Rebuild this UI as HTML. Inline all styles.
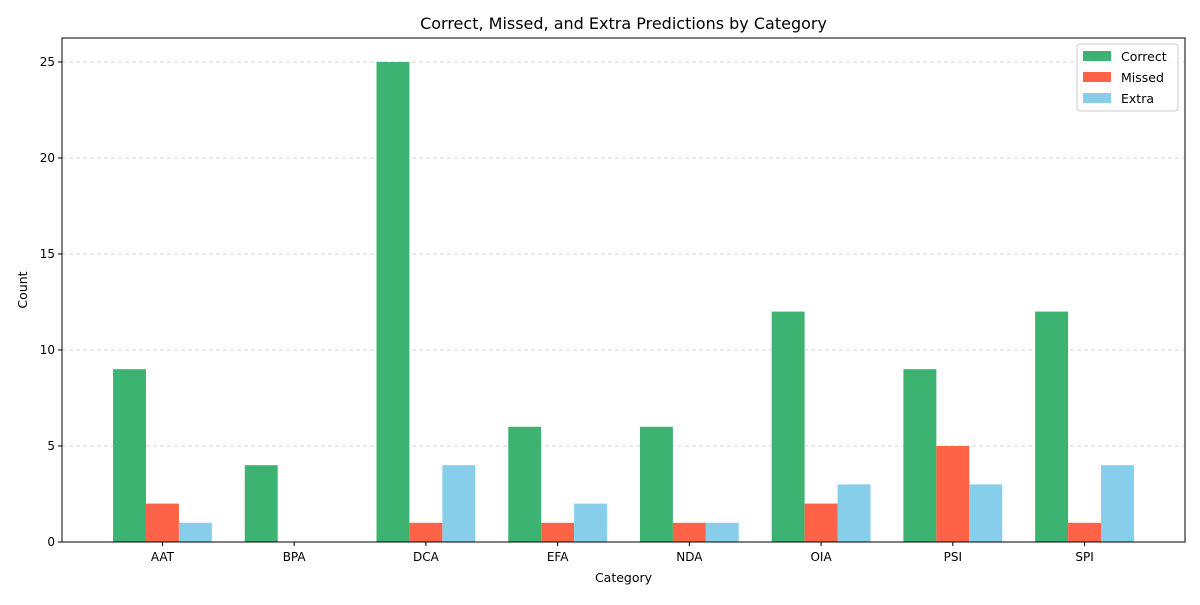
<!DOCTYPE html>
<html><head><meta charset="utf-8"><style>
body{margin:0;background:#fff;font-family:"Liberation Sans","DejaVu Sans",sans-serif;}
svg text{font-family:"DejaVu Sans","Liberation Sans",sans-serif;}
</style></head><body>
<svg id="c" width="1200" height="600" xmlns="http://www.w3.org/2000/svg"></svg>
<script>
const categories=["AAT","BPA","DCA","EFA","NDA","OIA","PSI","SPI"];
const correctVals=[9,4,25,6,6,12,9,12];
const missedVals=[2,0,1,1,1,2,5,1];
const extraVals=[1,0,4,2,1,3,3,4];
const yTicks=[0,5,10,15,20,25];
const seriesNames=["Correct","Missed","Extra"];
const seriesColors=["#3cb371","#ff6347","#87ceeb"];

const svg=document.getElementById('c');
const NS="http://www.w3.org/2000/svg";
const L=62,R=1185,T=38,B=542;
const xmin=-0.7625,xmax=categories.length-1+0.7625;
const ymin=0,ymax=26.25;
const xs=v=>L+(v-xmin)/(xmax-xmin)*(R-L);
const ys=v=>B-(v-ymin)/(ymax-ymin)*(B-T);
function mk(tag,attrs,parent){const e=document.createElementNS(NS,tag);for(const k in attrs)e.setAttribute(k,attrs[k]);(parent||svg).appendChild(e);return e;}

yTicks.forEach(t=>{
 if(t===0)return;
 const g=mk('line',{x1:L,x2:R,y1:ys(t),y2:ys(t),stroke:'#c8c8c8','stroke-width':0.8,'stroke-dasharray':'4,3'});
 
 
});
const all=[correctVals,missedVals,extraVals];
const w=0.25;
all.forEach((vals,s)=>{
 vals.forEach((v,i)=>{
  const x0=xs(i+(s-1)*w-w/2),x1=xs(i+(s-1)*w+w/2);
  const r=mk('rect',{x:x0,y:ys(v),width:x1-x0,height:ys(0)-ys(v),fill:seriesColors[s]});
  
  
 });
});
const fr=mk('rect',{x:L,y:T,width:R-L,height:B-T,fill:'none',stroke:'#000','stroke-width':1});


yTicks.forEach(t=>{
 mk('line',{x1:L-4,x2:L,y1:ys(t),y2:ys(t),stroke:'#000'});
 const tx=mk('text',{x:L-7,y:ys(t)+4,'text-anchor':'end','font-size':12});
 tx.textContent=t;
 
 
});
categories.forEach((c,i)=>{
 mk('line',{x1:xs(i),x2:xs(i),y1:B,y2:B+4,stroke:'#000'});
 const tx=mk('text',{x:xs(i),y:B+19,'text-anchor':'middle','font-size':12});
 tx.textContent=c;
 
 
});
const ti=mk('text',{x:(L+R)/2,y:29,'text-anchor':'middle','font-size':16});
ti.textContent="Correct, Missed, and Extra Predictions by Category";


const xt=mk('text',{x:(L+R)/2,y:582,'text-anchor':'middle','font-size':12.5});
xt.textContent="Category";


const yt=mk('text',{x:27,y:(T+B)/2,'text-anchor':'middle','font-size':12.5,transform:`rotate(-90 27 ${(T+B)/2})`});
yt.textContent="Count";


const lg=mk('g',{});


mk('rect',{x:1077,y:44,width:101,height:67,rx:3,fill:'#fff','fill-opacity':0.8,stroke:'#ccc'},lg);
seriesNames.forEach((n,s)=>{
 const y=56+s*21;
 const sw=mk('rect',{x:1083,y:y-5,width:28,height:10,fill:seriesColors[s]},lg);
 
 
 const t=mk('text',{x:1121,y:y+5,'font-size':12.5},lg);
 t.textContent=n;
 
 
});
</script>
</body></html>
